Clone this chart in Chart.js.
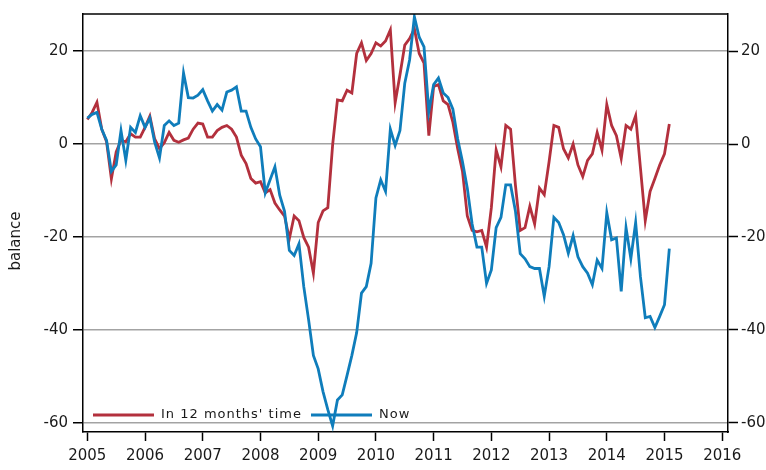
<!DOCTYPE html>
<html>
<head>
<meta charset="utf-8">
<script src="https://cdn.jsdelivr.net/npm/chart.js@4.4.1/dist/chart.umd.min.js"></script>
<style>
  html, body { margin: 0; padding: 0; background: #fff; }
  #wrap { width: 766px; height: 470px; }
</style>
</head>
<body>
<div id="wrap"><canvas id="chart" width="766" height="470"></canvas></div>
<script>
/* ---- Data (monthly, first value = Jan 2005) ---- */
const firstYear = 2005;
const seriesLabels = ["In 12 months' time", "Now"];

const inTwelveMonths = [
  5.3, 6.8, 9.0, 3.2, 0.5, -7.5, -1.7, 0.8, 0.5, 2.2, 1.5, 1.5,          // 2005
  3.6, 6.0, 1.1, -1.0, 0.3, 2.5, 0.8, 0.4, 0.9, 1.3, 3.2, 4.5,           // 2006
  4.3, 1.5, 1.5, 2.9, 3.6, 4.0, 3.2, 1.5, -2.4, -4.2, -7.4, -8.4,        // 2007
  -8.1, -10.5, -9.8, -12.7, -14.2, -15.5, -20.4, -15.5, -16.5, -20.1, -22.2, -27.8, // 2008
  -16.9, -14.4, -13.7, -0.2, 9.5, 9.3, 11.6, 11.0, 19.5, 21.8, 18.0, 19.5, // 2009
  21.8, 21.1, 22.2, 24.6, 8.9, 14.9, 21.3, 22.7, 24.8, 19.5, 17.4, 1.8,  // 2010
  12.4, 12.8, 9.3, 8.5, 4.7, -1.0, -5.9, -15.5, -18.6, -18.9, -18.6, -22.2, // 2011
  -13.7, -1.3, -4.9, 4.0, 3.2, -8.8, -18.6, -18.0, -13.4, -17.2, -9.5, -10.9, // 2012
  -3.8, 4.0, 3.6, -1.0, -3.0, 0.0, -4.5, -7.0, -3.5, -2.1, 2.5, -1.3,    // 2013
  8.5, 4.0, 1.8, -3.1, 4.0, 3.2, 6.1, -5.2, -16.5, -10.2, -7.4, -4.5,    // 2014
  -2.1, 4.3                                                              // 2015
];

const nowBalance = [
  5.6, 6.4, 6.8, 3.2, 0.8, -5.9, -4.5, 2.9, -3.5, 3.6, 2.5, 6.1,         // 2005
  3.6, 5.6, 0.4, -3.0, 4.0, 5.0, 4.0, 4.5, 15.3, 10.0, 9.9, 10.5,        // 2006
  11.7, 9.3, 7.1, 8.5, 7.3, 11.2, 11.6, 12.3, 7.1, 7.1, 3.6, 1.1,        // 2007
  -0.6, -10.5, -7.7, -4.9, -11.0, -14.5, -22.9, -24.0, -21.5, -30.7, -37.8, -45.5, // 2008
  -48.4, -53.3, -57.2, -60.7, -55.1, -54.0, -49.8, -45.5, -40.6, -32.1, -30.7, -25.7, // 2009
  -11.6, -7.7, -10.2, 3.2, -0.3, 2.9, 13.1, 18.1, 27.4, 23.0, 20.9, 7.0, // 2010
  12.8, 14.2, 11.0, 10.0, 7.5, 1.1, -3.8, -9.5, -17.2, -22.2, -22.2, -30.0, // 2011
  -27.1, -18.0, -15.8, -8.8, -8.8, -14.4, -23.6, -24.7, -26.4, -26.8, -26.8, -32.8, // 2012
  -26.4, -15.8, -16.9, -19.5, -23.5, -19.7, -24.3, -26.4, -27.8, -30.3, -25.0, -26.8, // 2013
  -14.8, -20.6, -20.2, -31.7, -18.0, -24.7, -16.9, -28.6, -37.4, -37.1, -39.5, -37.1, // 2014
  -34.6, -22.5                                                           // 2015
];

const yearTicks = [2005, 2006, 2007, 2008, 2009, 2010, 2011, 2012, 2013, 2014, 2015, 2016];
const balanceTicks = [-60, -40, -20, 0, 20];

/* ---- Helpers ---- */
const toPoints = arr => arr.map((v, i) => ({ x: firstYear + i / 12, y: v }));
const tickFont = { family: "DejaVu Sans", size: 15 };
const setTicks = list => scale => { scale.ticks = list.map(v => ({ value: v })); };

// frame top edge, rotated y title and the inside legend
const extrasPlugin = {
  id: "extras",
  afterDraw(chart) {
    const { ctx, chartArea: a } = chart;
    ctx.save();
    ctx.strokeStyle = "#000";
    ctx.lineWidth = 1.5;
    ctx.beginPath();
    ctx.moveTo(a.left, a.top);
    ctx.lineTo(a.right, a.top);
    ctx.stroke();

    // y title
    ctx.fillStyle = "#1a1a1a";
    ctx.font = "15px 'DejaVu Sans'";
    ctx.textAlign = "center";
    ctx.textBaseline = "middle";
    ctx.translate(16, 241);
    ctx.rotate(-Math.PI / 2);
    ctx.fillText("balance", 0, 0);
    ctx.restore();

    // legend inside the plot, bottom left
    ctx.save();
    ctx.font = "13px 'DejaVu Sans'";
    ctx.letterSpacing = "1px";
    ctx.textBaseline = "middle";
    ctx.textAlign = "left";
    const y = a.bottom - 17;
    const starts = [a.left + 10, a.left + 228];
    chart.data.datasets.forEach((ds, k) => {
      const x0 = starts[k];
      ctx.strokeStyle = ds.borderColor;
      ctx.lineWidth = 3;
      ctx.beginPath();
      ctx.moveTo(x0, y);
      ctx.lineTo(x0 + 61, y);
      ctx.stroke();
      ctx.fillStyle = "#1a1a1a";
      ctx.fillText(ds.label, x0 + 68, y);
    });
    ctx.restore();
  }
};

new Chart(document.getElementById("chart").getContext("2d"), {
  type: "line",
  data: {
    datasets: [
      // blue drawn above red (lower order = on top)
      { label: seriesLabels[0], data: toPoints(inTwelveMonths), order: 1, borderColor: "#b3303d", borderWidth: 2.8, pointRadius: 0, tension: 0, fill: false },
      { label: seriesLabels[1], data: toPoints(nowBalance), order: 0, borderColor: "#0f7dbb", borderWidth: 2.8, pointRadius: 0, tension: 0, fill: false }
    ]
  },
  options: {
    responsive: false,
    animation: false,
    layout: { padding: { top: 10, left: 0, right: 0, bottom: 0 } },
    plugins: { legend: { display: false }, tooltip: { enabled: false } },
    scales: {
      x: {
        type: "linear",
        min: 2004.925,
        max: 2016.1,
        afterBuildTicks: setTicks(yearTicks),
        afterFit: s => { s.height = 38; },
        ticks: { font: tickFont, color: "#1a1a1a", maxRotation: 0, autoSkip: false, padding: 6, callback: v => String(v) },
        grid: { drawOnChartArea: false, drawTicks: true, tickLength: 9, tickColor: "#000", tickWidth: 1.5 },
        border: { display: true, color: "#000", width: 1.5 }
      },
      y: {
        position: "left",
        min: -62,
        max: 28,
        afterBuildTicks: setTicks(balanceTicks),
        afterFit: s => { s.width = 83; },
        ticks: { font: tickFont, color: "#1a1a1a", padding: 5 },
        grid: { color: "#a3a3a3", lineWidth: 1.5, tickColor: "#000", tickLength: 10, tickWidth: 1.5 },
        border: { display: true, color: "#000", width: 1.5 }
      },
      y2: {
        position: "right",
        min: -62,
        max: 28,
        afterBuildTicks: setTicks(balanceTicks),
        afterFit: s => { s.width = 38; },
        ticks: { font: tickFont, color: "#1a1a1a", padding: 3 },
        grid: { drawOnChartArea: false, tickColor: "#000", tickLength: 10, tickWidth: 1.5 },
        border: { display: true, color: "#000", width: 1.5 }
      }
    }
  },
  plugins: [extrasPlugin]
});
</script>
</body>
</html>
